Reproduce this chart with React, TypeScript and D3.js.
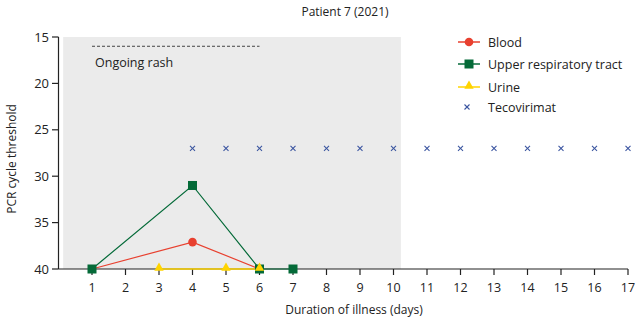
import React from "react";
import * as d3 from "d3";

const days = d3.range(1, 18);
const yTicks = [15, 20, 25, 30, 35, 40];
const bloodDays = [1, 4, 6];
const bloodCt = [40, 37.1, 40];
const urtDays = [1, 4, 6, 7];
const urtCt = [40, 31, 40, 40];
const urineDays = [3, 5, 6];
const urineCt = [40, 40, 40];
const tecoDays = d3.range(4, 18);
const tecoCt = 27;
const rashStart = 1;
const rashEnd = 6;
const rashCt = 16;
const shadeStart = 0.14;
const shadeEnd = 10.22;

const RED = "#e8402f";
const GREEN = "#046a38";
const YELLOW = "#ffd400";
const BLUE = "#3b55a0";
const FONT = "'Open Sans', 'Noto Sans', sans-serif";

export default function App() {
  const W = 640, H = 321;
  const x = d3.scaleLinear().domain([0, 17]).range([58.5, 628]);
  const y = d3.scaleLinear().domain([15, 40]).range([37, 269]);
  const line = (ds: number[], vs: number[]) =>
    d3.line<number>().x((d) => x(d)).y((_, i) => y(vs[i]))(ds) || "";
  const sq = 9;
  const tri = d3.symbol().type(d3.symbolTriangle).size(38)() || "";
  const cross = (cx: number, cy: number, k: string) => (
    <g key={k} stroke={BLUE} strokeWidth={1.1}>
      <line x1={cx - 2.5} y1={cy - 2.5} x2={cx + 2.5} y2={cy + 2.5} />
      <line x1={cx - 2.5} y1={cy + 2.5} x2={cx + 2.5} y2={cy - 2.5} />
    </g>
  );
  const legend = [
    { label: "Blood", color: RED, type: "circle", yy: 42 },
    { label: "Upper respiratory tract", color: GREEN, type: "square", yy: 64 },
    { label: "Urine", color: YELLOW, type: "tri", yy: 87 },
    { label: "Tecovirimat", color: BLUE, type: "x", yy: 107 },
  ];
  return (
    <svg width={W} height={H} style={{ position: "absolute", left: 0, top: 0, background: "#fff" }} fontFamily={FONT}>
      <rect x={x(shadeStart)} y={y(15)} width={x(shadeEnd) - x(shadeStart)} height={y(40) - y(15)} fill="#ebebeb" />
      <text x={345} y={16} textAnchor="middle" fontSize={12} fill="#222">Patient 7 (2021)</text>
      {/* rash */}
      <line x1={x(rashStart)} x2={x(rashEnd)} y1={y(rashCt)} y2={y(rashCt)} stroke="#444" strokeWidth={1} strokeDasharray="3,2" />
      <text x={x(rashStart) + 3} y={67} fontSize={12.5} fill="#222">Ongoing rash</text>
      {/* y axis */}
      <line x1={58.5} x2={58.5} y1={y(15)} y2={y(40)} stroke="#222" strokeWidth={1.2} />
      {yTicks.map((t) => (
        <g key={t}>
          <line x1={52} x2={58.5} y1={y(t)} y2={y(t)} stroke="#222" strokeWidth={1.2} />
          <text x={49} y={y(t) + 4.5} textAnchor="end" fontSize={13} fill="#222">{t}</text>
        </g>
      ))}
      <text transform={`translate(16,159) rotate(-90)`} textAnchor="middle" fontSize={12} fill="#222">PCR cycle threshold</text>
      {/* x axis */}
      <line x1={58.5} x2={x(17)} y1={269} y2={269} stroke="#222" strokeWidth={1.2} />
      {days.map((d) => (
        <g key={d}>
          <line x1={x(d)} x2={x(d)} y1={269} y2={275} stroke="#222" strokeWidth={1.2} />
          <text x={x(d)} y={292} textAnchor="middle" fontSize={12.5} fill="#222">{d}</text>
        </g>
      ))}
      <text x={354} y={314} textAnchor="middle" fontSize={12} fill="#222">Duration of illness (days)</text>
      {/* series lines */}
      <path d={line(urineDays, urineCt)} fill="none" stroke={YELLOW} strokeWidth={1.3} />
      <path d={line(urtDays, urtCt)} fill="none" stroke={GREEN} strokeWidth={1.2} />
      <path d={line(bloodDays, bloodCt)} fill="none" stroke={RED} strokeWidth={1.2} />
      {urtDays.map((d, i) => (
        <rect key={"u" + i} x={x(d) - sq / 2} y={y(urtCt[i]) - sq / 2} width={sq} height={sq} fill={GREEN} />
      ))}
      {bloodDays.map((d, i) =>
        bloodCt[i] < 40 ? <circle key={"b" + i} cx={x(d)} cy={y(bloodCt[i])} r={4.3} fill={RED} /> : null
      )}
      {urineDays.map((d, i) => (
        <path key={"r" + i} d={tri} transform={`translate(${x(d)},${y(urineCt[i]) - 1})`} fill={YELLOW} />
      ))}
      {tecoDays.map((d) => cross(x(d), y(tecoCt), "t" + d))}
      {/* legend */}
      {legend.map((l) => (
        <g key={l.label}>
          {l.type !== "x" && (
            <line x1={458} x2={480} y1={l.yy} y2={l.yy} stroke={l.color} strokeWidth={1.5} />
          )}
          {l.type === "circle" && <circle cx={469} cy={l.yy} r={4.3} fill={l.color} />}
          {l.type === "square" && <rect x={469 - 4.5} y={l.yy - 4.5} width={9} height={9} fill={l.color} />}
          {l.type === "tri" && <path d={tri} transform={`translate(469,${l.yy - 1})`} fill={l.color} />}
          {l.type === "x" && cross(467, l.yy, "lx")}
          <text x={488} y={l.yy + 4.5} fontSize={12.5} fill="#222">{l.label}</text>
        </g>
      ))}
    </svg>
  );
}
